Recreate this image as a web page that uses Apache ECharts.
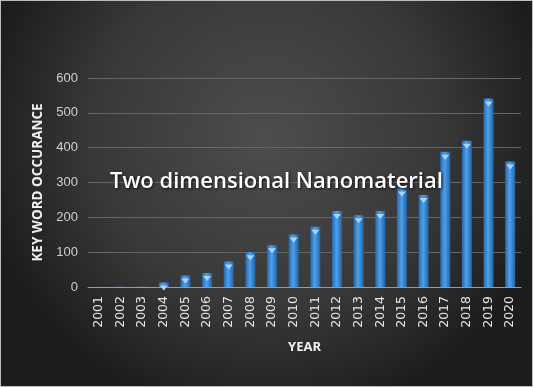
<!DOCTYPE html>
<html>
<head>
<meta charset="utf-8">
<script src="https://cdn.jsdelivr.net/npm/echarts@6/dist/echarts.min.js"></script>
<style>
  html, body { margin: 0; padding: 0; background: #fff; }
  #box { width: 533px; height: 387px; box-sizing: border-box; border: 1px solid #bdbdbd; }
</style>
</head>
<body>
<div id="box"></div>
<script>
// 数据
var years = ["2001", "2002", "2003", "2004", "2005", "2006", "2007", "2008", "2009", "2010",
  "2011", "2012", "2013", "2014", "2015", "2016", "2017", "2018", "2019", "2020"];
var counts = [0, 1, 1, 13, 33, 40, 73, 100, 120, 151, 173, 218, 206, 218, 283, 264, 388, 420, 541, 360];
var yTicks = [0, 100, 200, 300, 400, 500, 600];

var myChart = echarts.init(document.getElementById("box"));

var barColor = new echarts.graphic.LinearGradient(0, 0, 1, 0, [
  { offset: 0, color: "#2468ad" },
  { offset: 0.45, color: "#4fa0ea" },
  { offset: 1, color: "#2263a6" },
]);

myChart.setOption({
  backgroundColor: new echarts.graphic.RadialGradient(0.5, 0.35, 0.75, [
    { offset: 0, color: "#4d4d4d" },
    { offset: 0.6, color: "#383838" },
    { offset: 1, color: "#1c1c1c" },
  ]),
  grid: { left: 87, right: 11, top: 77, bottom: 99 },
  title: {
    text: "Two dimensional Nanomaterial",
    left: 104,
    top: 165,
    textStyle: {
      color: "#ffffff",
      fontFamily: "Open Sans",
      fontSize: 22,
      fontWeight: 600,
      textShadowColor: "rgba(0,0,0,0.8)",
      textShadowBlur: 3,
      textShadowOffsetX: 1,
      textShadowOffsetY: 1,
    },
  },
  xAxis: {
    type: "category",
    data: years,
    name: "YEAR",
    nameLocation: "middle",
    nameGap: 54,
    nameTextStyle: { color: "#f0f0f0", fontWeight: "bold", fontSize: 13, fontFamily: "Open Sans" },
    axisLine: { lineStyle: { color: "#9a9a9a", width: 1 } },
    axisTick: { show: false },
    axisLabel: {
      rotate: 90,
      interval: 0,
      color: "#e6e6e6",
      fontSize: 12.5,
      fontFamily: "DejaVu Sans",
      margin: 9,
    },
  },
  yAxis: {
    type: "value",
    min: 0,
    max: 600,
    interval: 100,
    name: "KEY WORD OCCURANCE",
    nameLocation: "middle",
    nameGap: 31,
    nameTextStyle: { color: "#f0f0f0", fontWeight: "bold", fontSize: 13.5, fontFamily: "Open Sans" },
    axisLine: { show: false },
    axisTick: { show: false },
    axisLabel: {
      color: "#d0d0d0",
      fontSize: 13,
      fontFamily: "Liberation Sans",
      margin: 10,
      formatter: function (v) { return yTicks.indexOf(v) >= 0 ? String(v) : ""; },
    },
    splitLine: { lineStyle: { color: "#666666", width: 1 } },
  },
  series: [
    {
      type: "bar",
      data: counts,
      barWidth: 10,
      itemStyle: { color: barColor },
      silent: true,
    },
    {
      // 柱顶的小三角
      type: "pictorialBar",
      data: counts,
      symbol: "triangle",
      symbolRotate: 180,
      symbolSize: function (v) { return v < 5 ? [0, 0] : [8, 5]; },
      symbolPosition: "end",
      symbolOffset: [0, 3],
      itemStyle: { color: "#a6d6ff" },
      silent: true,
      z: 5,
    },
  ],
});
</script>
</body>
</html>
